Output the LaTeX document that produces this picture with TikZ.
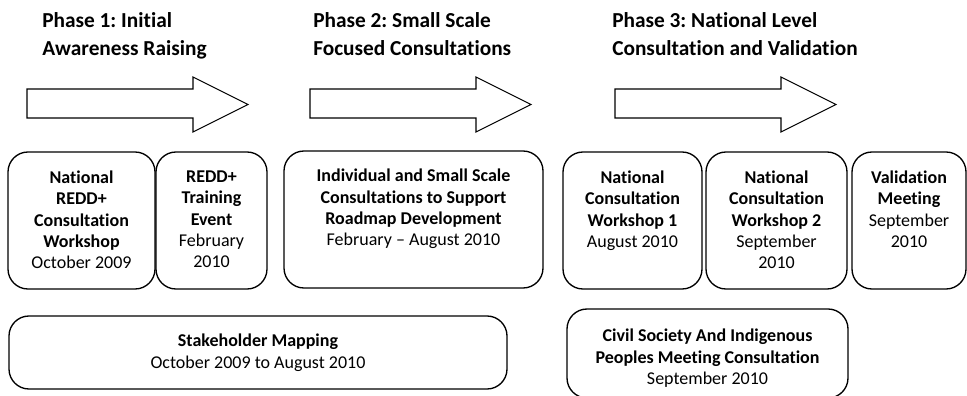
\documentclass[tikz,border=0pt]{standalone}
\usepackage{fontspec}
\setmainfont{Carlito}[Ligatures={NoCommon}]
\frenchspacing
\begin{document}
\begin{tikzpicture}[x=0.75pt,y=-0.75pt,
  phasetitle/.style={font=\fontsize{16}{21}\selectfont\bfseries, align=left, anchor=north west, inner sep=0pt},
  phasearrow/.style={draw=black, line width=0.8pt, fill=white},
  evbox/.style={draw=black, line width=1pt, rounded corners=15pt, fill=white, inner sep=0pt},
  evtext/.style={font=\fontsize{13.5}{16}\selectfont, align=center, anchor=north, inner sep=0pt},
  wpx/.style={minimum width=#1*0.75pt},
  hpx/.style={minimum height=#1*0.75pt}
]
\useasboundingbox (0,0) rectangle (967,396);
\clip (0,0) rectangle (967,396);

% phase titles
\node[phasetitle] (t1) at (42,12) {Phase 1: Initial\\Awareness Raising};
\node[phasetitle] (t2) at (313,12) {Phase 2: Small Scale\\Focused Consultations};
\node[phasetitle] (t3) at (612,12) {Phase 3: National Level\\Consultation and Validation};

% phase arrows
\foreach \x in {27,310,615}
  \draw[phasearrow] (\x,89) -- ++(166,0) -- ++(0,-12) -- ++(55,27.5) -- ++(-55,27.5) -- ++(0,-14) -- ++(-166,0) -- cycle;

% event boxes
\node[evbox, wpx=147, hpx=137] (bA) at (81.5,220.5) {};
\node[evbox, wpx=111, hpx=137] (bB) at (211.5,220.5) {};
\node[evbox, wpx=259, hpx=137] (bC) at (413.5,219.5) {};
\node[evbox, wpx=139, hpx=137] (bD) at (632.5,220.5) {};
\node[evbox, wpx=141, hpx=137] (bE) at (776.5,220.5) {};
\node[evbox, wpx=114, hpx=137] (bF) at (909,220.5) {};
\node[evbox, wpx=498, hpx=73] (bG) at (258,352.5) {};
\node[evbox, wpx=281, hpx=89] (bH) at (707.5,353.5) {};

\node[evtext] (tA) at ([yshift=-14.5pt]bA.north) {\textbf{National}\\\textbf{REDD+}\\\textbf{Consultation}\\\textbf{Workshop}\\October 2009};
\node[evtext] (tB) at ([yshift=-14.5pt]bB.north) {\textbf{REDD+}\\\textbf{Training}\\\textbf{Event}\\February\\2010};
\node[evtext] (tC) at ([yshift=-14pt]bC.north) {\textbf{Individual and Small Scale}\\\textbf{Consultations to Support}\\\textbf{Roadmap Development}\\February – August 2010};
\node[evtext] (tD) at ([yshift=-14.5pt]bD.north) {\textbf{National}\\\textbf{Consultation}\\\textbf{Workshop 1}\\August 2010};
\node[evtext] (tE) at ([yshift=-14.5pt]bE.north) {\textbf{National}\\\textbf{Consultation}\\\textbf{Workshop 2}\\September\\2010};
\node[evtext] (tF) at ([yshift=-14.5pt]bF.north) {\textbf{Validation}\\\textbf{Meeting}\\September\\2010};
\node[evtext] (tG) at ([yshift=-14pt]bG.north) {\textbf{Stakeholder Mapping}\\October 2009 to August 2010};
\node[evtext] (tH) at ([yshift=-15.5pt]bH.north) {\textbf{Civil Society And Indigenous}\\\textbf{Peoples Meeting Consultation}\\September 2010};
\end{tikzpicture}
\end{document}
